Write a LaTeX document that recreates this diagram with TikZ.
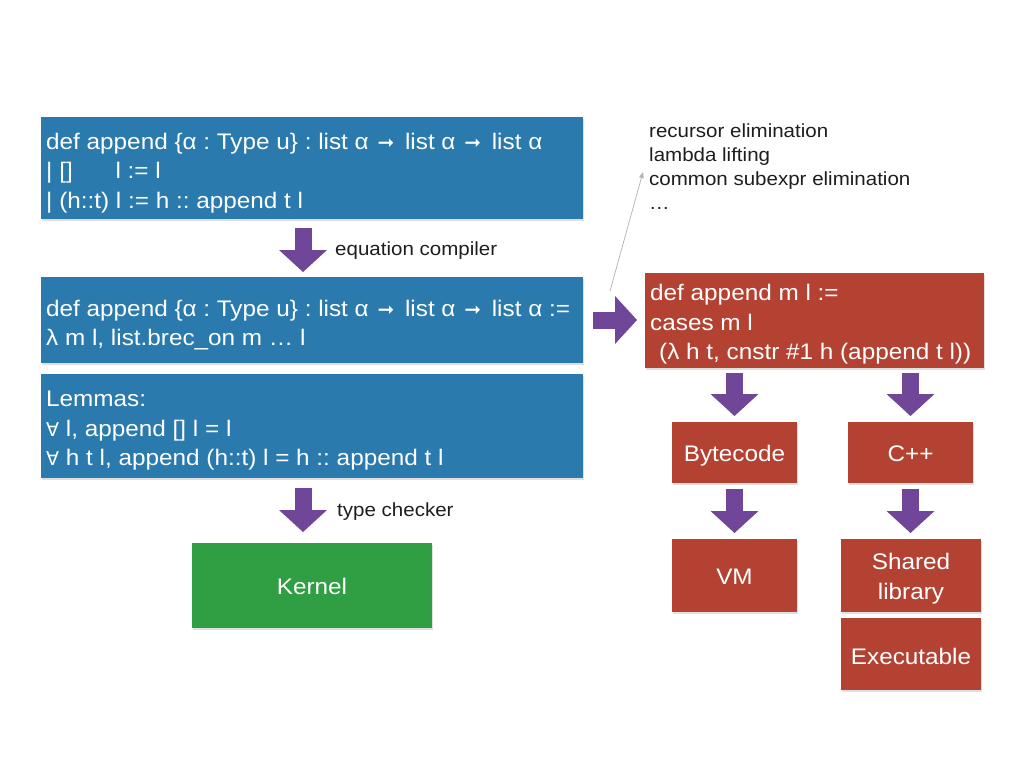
\documentclass[tikz,border=0pt]{standalone}
\usepackage{fontspec}
\setmainfont{Liberation Sans}[FakeStretch=1.08]
\newfontfamily\dejavu{DejaVu Sans}
\newcommand{\rarr}{\hspace{2pt}{\dejavu\fontsize{20}{20}\selectfont ➞}\hspace{4pt}}
\newcommand{\fa}{{\dejavu\fontsize{19}{20}\selectfont ∀}}
\usetikzlibrary{arrows.meta,shadows}
\definecolor{bxblue}{RGB}{43,122,174}
\definecolor{bxred}{RGB}{180,66,50}
\definecolor{bxgreen}{RGB}{48,158,66}
\definecolor{arpurple}{RGB}{112,70,152}
\definecolor{txtdark}{RGB}{30,30,30}
\frenchspacing
\begin{document}
\begin{tikzpicture}[x=1pt,y=-1pt,
  box/.style={inner sep=0pt, outer sep=0pt, anchor=north west,
    drop shadow={shadow xshift=1pt, shadow yshift=-1.5pt, opacity=0.25}},
  bluebox/.style={box, fill=bxblue},
  redbox/.style={box, fill=bxred},
  greenbox/.style={box, fill=bxgreen},
  boxtext/.style={inner sep=0pt, text=white, align=left, anchor=west,
    font=\fontsize{22.5}{29.5}\selectfont},
  ctext/.style={inner sep=0pt, text=white, align=center,
    font=\fontsize{22.5}{29.5}\selectfont},
  bigarrow/.style={draw=arpurple, line width=17pt,
    -{Triangle[length=22pt, width=48pt, line width=0pt]}},
  lbl/.style={inner sep=0pt, anchor=west, text=txtdark,
    font=\fontsize{19}{24}\selectfont, align=left}
]
\useasboundingbox[fill=white] (0,0) rectangle (1024,768);

% left column
\node[bluebox, minimum width=542pt, minimum height=102pt] (b1) at (41,117) {};
\node[boxtext] (b1t) at ([xshift=5pt, yshift=-5pt]b1.west)
  {def append \{α : Type u\} : list α \rarr{} list α \rarr{} list α\\
   | []\hspace{36pt} l := l\\
   | (h::t) l := h :: append t l};
\node[bluebox, minimum width=542pt, minimum height=86pt] (b2) at (41,277) {};
\node[boxtext] (b2t) at ([xshift=5pt, yshift=-5pt]b2.west)
  {def append \{α : Type u\} : list α \rarr{} list α \rarr{} list α :=\\
   λ m l, list.brec\_on m … l};
\node[bluebox, minimum width=542pt, minimum height=104pt] (b3) at (41,374) {};
\node[boxtext] (b3t) at ([xshift=5pt, yshift=-5pt]b3.west)
  {Lemmas:\\
   \fa{} l, append [] l = l\\
   \fa{} h t l, append (h::t) l = h :: append t l};
\node[greenbox, minimum width=240pt, minimum height=85pt] (kern) at (192,543) {};
\node[ctext] (kernt) at ([yshift=-1pt]kern.center) {Kernel};

% right column
\node[redbox, minimum width=339pt, minimum height=95pt] (r1) at (645,273) {};
\node[boxtext] (r1t) at ([xshift=5pt, yshift=-4pt]r1.west)
  {def append m l :=\\
   cases m l\\
   \hspace*{9pt}(λ h t, cnstr \#1 h (append t l))};
\node[redbox, minimum width=125pt, minimum height=61pt] (byte) at (672,422) {};
\node[ctext] (bytet) at ([yshift=-3pt]byte.center) {Bytecode};
\node[redbox, minimum width=125pt, minimum height=61pt] (cpp) at (848,422) {};
\node[ctext] (cppt) at ([yshift=-1pt]cpp.center) {C++};
\node[redbox, minimum width=125pt, minimum height=73pt] (vm) at (672,539) {};
\node[ctext] (vmt) at ([yshift=-1pt]vm.center) {VM};
\node[redbox, minimum width=140pt, minimum height=73pt] (shlib) at (841,539) {};
\node[ctext] (shlibt) at ([yshift=-3pt]shlib.center) {Shared\\library};
\node[redbox, minimum width=140pt, minimum height=72pt] (exe) at (841,618) {};
\node[ctext] (exet) at ([yshift=-2pt]exe.center) {Executable};

% labels
\node[lbl] (eqc) at (335,251) {equation compiler};
\node[lbl] (tyc) at (337,512) {type checker};
\node[lbl] (opt) at (649,167) {recursor elimination\\lambda lifting\\common subexpr elimination\\…};

% arrows
\coordinate (kx) at (303,0);
\draw[bigarrow, shorten <=9pt, shorten >=5pt] (b1.south -| kx) -- (b2.north -| kx);
\draw[bigarrow, shorten <=10pt, shorten >=11pt] (b3.south -| kx) -- (kern.north -| kx);
\draw[bigarrow, shorten <=10pt, shorten >=8pt] (b2.east) -- (b2.east -| r1.west);
\draw[bigarrow, shorten <=5pt, shorten >=6pt] (r1.south -| byte.north) -- (byte.north);
\draw[bigarrow, shorten <=5pt, shorten >=6pt] (r1.south -| cpp.north) -- (cpp.north);
\draw[bigarrow, shorten <=6pt, shorten >=6pt] (byte.south) -- (vm.north);
\draw[bigarrow, shorten <=6pt, shorten >=6pt] (cpp.south) -- (shlib.north -| cpp.south);

% thin grey arrow
\coordinate (gs) at (610,291);
\coordinate (ge) at (643,172);
\draw[draw=gray!60, line width=0.7pt, -{Triangle[length=6pt, width=4.5pt]}] (gs) -- (ge);
\end{tikzpicture}
\end{document}
